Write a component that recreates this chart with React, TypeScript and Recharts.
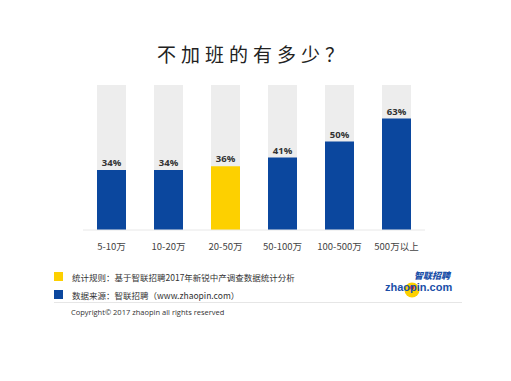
import React from 'react';
import { BarChart, Bar, XAxis, YAxis, Cell, LabelList } from 'recharts';

const categories = ['5-10万', '10-20万', '20-50万', '50-100万', '100-500万', '500万以上'];
const values = [34, 34, 36, 41, 50, 63];
const highlightIndex = 2;

const title = '不加班的有多少？';
const legendItems = [
  { color: '#FDD000', text: '统计规则：基于智联招聘2017年新锐中产调查数据统计分析' },
  { color: '#0B479E', text: '数据来源：智联招聘（www.zhaopin.com）' },
];
const copyright = 'Copyright© 2017 zhaopin all rights reserved';

const data = categories.map((c, i) => ({ name: c, value: values[i] }));

const BLUE = '#0B479E';
const YELLOW = '#FDD000';

export default function App() {
  return (
    <div style={{ position: 'absolute', left: 0, top: 0, width: 511, height: 381, background: '#fff', overflow: 'hidden' }}>
      <div
        style={{
          position: 'absolute',
          left: 0,
          top: 41,
          width: 506,
          textAlign: 'center',
          fontFamily: '"Noto Sans CJK SC", sans-serif',
          fontSize: 19,
          letterSpacing: 5,
          color: '#222',
          lineHeight: '26px',
        }}
      >
        {title}
      </div>
      <BarChart
        width={511}
        height={381}
        data={data}
        margin={{ top: 85, right: 86, left: 83, bottom: 121 }}
        barCategoryGap={0}
      >
        <YAxis hide domain={[0, 82]} />
        <XAxis
          dataKey="name"
          axisLine={{ stroke: '#e8e8e8' }}
          tickLine={false}
          tickMargin={7}
          interval={0}
          tick={{ fontSize: 9.5, fill: '#444', fontFamily: '"Noto Sans CJK SC", sans-serif' }}
        />
        <Bar dataKey="value" barSize={29} background={{ fill: '#ededed' }} isAnimationActive={false}>
          {data.map((d, i) => (
            <Cell key={d.name} fill={i === highlightIndex ? YELLOW : BLUE} />
          ))}
          <LabelList
            dataKey="value"
            position="top"
            offset={4}
            formatter={(v: number) => `${v}%`}
            style={{ fontSize: 9.5, fontWeight: 700, fill: '#333', fontFamily: '"Open Sans", sans-serif' }}
          />
        </Bar>
      </BarChart>
      {legendItems.map((it, i) => (
        <div
          key={i}
          style={{
            position: 'absolute',
            left: 54,
            top: 271 + i * 18,
            height: 11,
            display: 'flex',
            alignItems: 'center',
            fontFamily: '"Noto Sans CJK SC", sans-serif',
            fontSize: 8.5,
            color: '#333',
            whiteSpace: 'nowrap',
          }}
        >
          <span style={{ display: 'inline-block', width: 9, height: 9, background: it.color, marginRight: 9 }} />
          <span>{it.text}</span>
        </div>
      ))}
      <div style={{ position: 'absolute', left: 54, top: 302, width: 408, height: 1, background: '#e6e6e6' }} />
      <div
        style={{
          position: 'absolute',
          left: 71,
          top: 307,
          fontFamily: '"Open Sans", sans-serif',
          fontSize: 7.5,
          color: '#333',
          whiteSpace: 'nowrap',
        }}
      >
        {copyright}
      </div>
      <svg style={{ position: 'absolute', left: 380, top: 266 }} width={90} height={36}>
        <circle cx={32} cy={24} r={7.5} fill={YELLOW} />
        <circle cx={32} cy={21.5} r={2.2} fill="#d8352a" />
        <text x={34} y={13} fontFamily='"Noto Sans CJK SC", sans-serif' fontSize={9} fontWeight={900} fontStyle="italic" fill="#1a4fa8">
          智联招聘
        </text>
        <text x={5} y={25} fontFamily='"Liberation Sans", Arial, sans-serif' fontSize={11} fontWeight={700} fill="#1a4fa8">
          zhaopin.com
        </text>
      </svg>
    </div>
  );
}
